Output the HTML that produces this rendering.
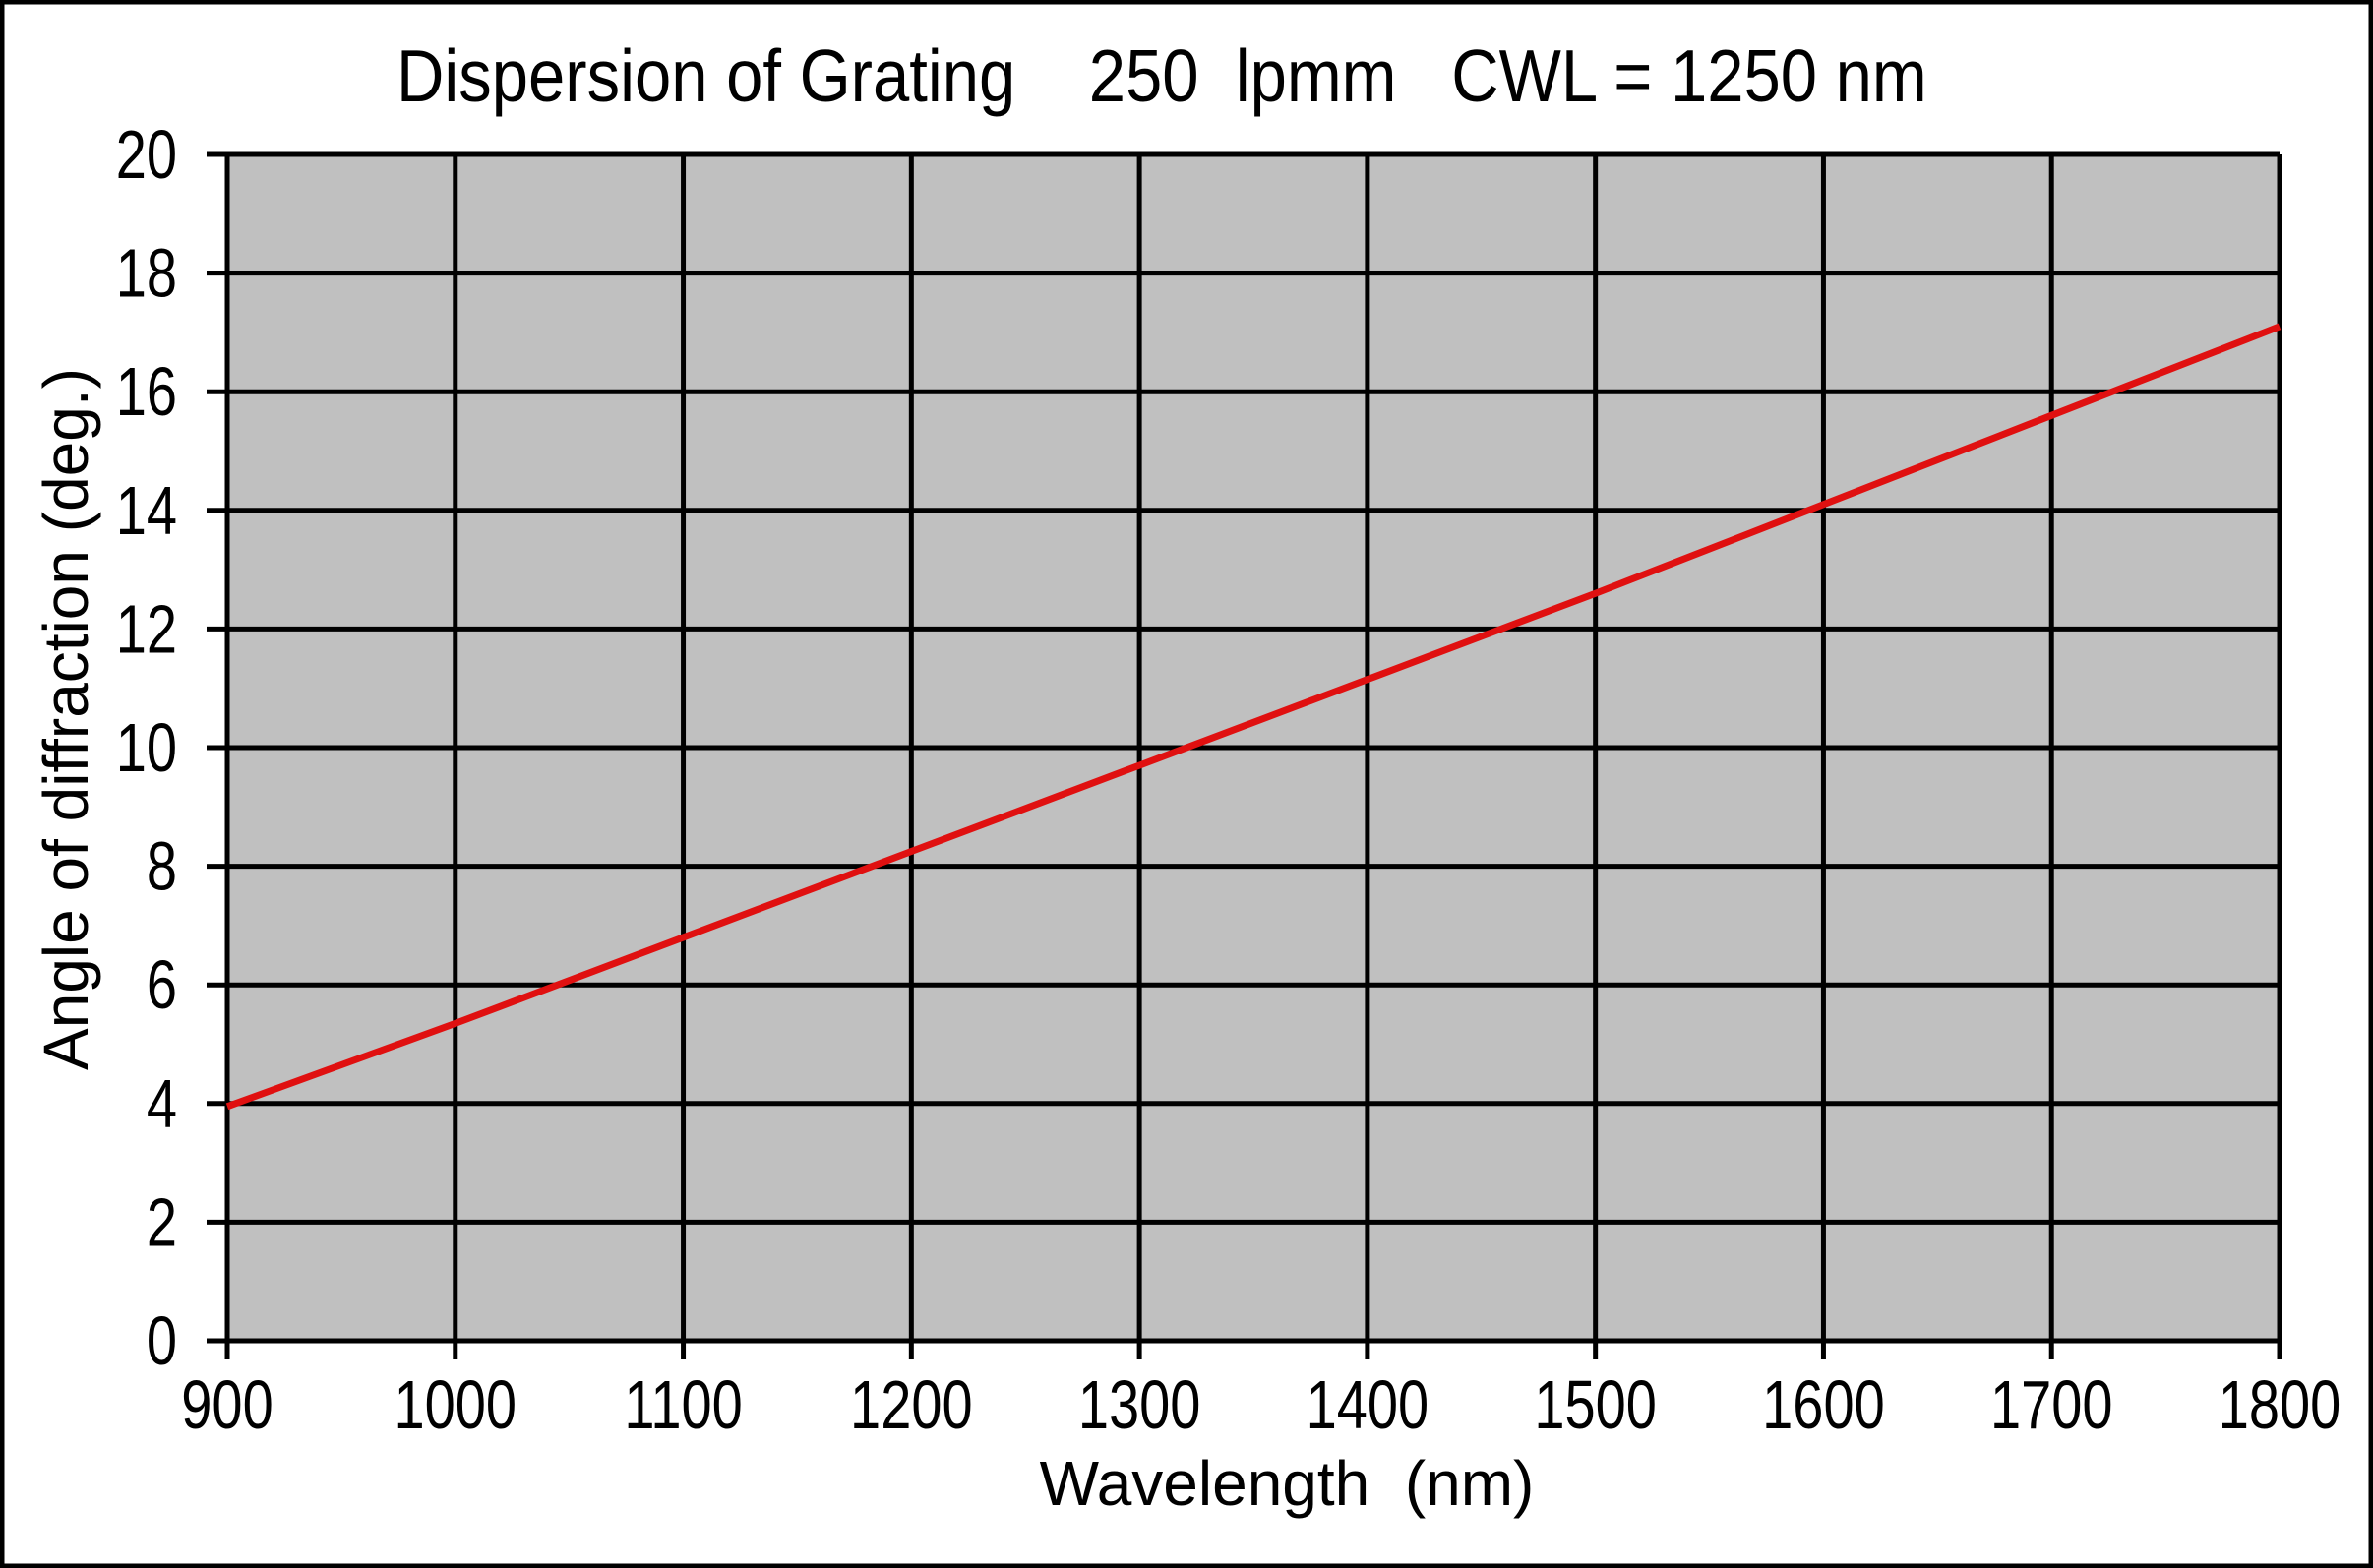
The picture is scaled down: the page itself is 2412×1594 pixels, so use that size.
<!DOCTYPE html>
<html><head><meta charset="utf-8"><style>
html,body{margin:0;padding:0;background:#fff}
svg{display:block}
text{font-family:"Liberation Sans",Arial,sans-serif;fill:#000}
</style></head><body>
<svg id="chart" width="2412" height="1594" viewBox="0 0 2412 1594" xmlns="http://www.w3.org/2000/svg">
<rect x="2" y="2" width="2408" height="1590" fill="#fff" stroke="#000" stroke-width="5"/>
<text transform="translate(403,103) scale(1,1.12)" font-size="67" xml:space="preserve">Dispersion of Grating    250  lpmm   CWL = 1250 nm</text>
<g id="plot"></g>
<text x="1308" y="1530" font-size="64" text-anchor="middle" xml:space="preserve">Wavelength  (nm)</text>
<text transform="translate(89,731) rotate(-90)" font-size="64" text-anchor="middle">Angle of diffraction (deg.)</text>
</svg>
<script>
const xTicks = [900,1000,1100,1200,1300,1400,1500,1600,1700,1800];
const yTicks = [0,2,4,6,8,10,12,14,16,18,20];
const wavelengths = [900,1000,1100,1200,1300,1400,1500,1600,1700,1800];
const angles = [3.95,5.35,6.8,8.25,9.7,11.15,12.6,14.1,15.6,17.1];

const L=231,R=2317,T=157,B=1363;
const xs=v=>L+(v-900)/(1800-900)*(R-L);
const ys=v=>B-(v-0)/(20-0)*(B-T);
const NS='http://www.w3.org/2000/svg';
const g=document.getElementById('plot');
function mk(tag,attrs){const e=document.createElementNS(NS,tag);for(const k in attrs)e.setAttribute(k,attrs[k]);g.appendChild(e);return e;}

let bg=mk('rect',{x:L,y:T,width:R-L,height:B-T,fill:'#c0c0c0'});



xTicks.forEach(v=>{
  const x=xs(v);
  let l=mk('line',{x1:x,y1:T,x2:x,y2:B+19,stroke:'#000','stroke-width':5});
  
  
  let t=mk('text',{transform:'translate('+x+',1452) scale(1,1.25)','font-size':56,'text-anchor':'middle'});
  t.textContent=v;
  
  
});
yTicks.forEach(v=>{
  const y=ys(v);
  let l=mk('line',{x1:L-21,y1:y,x2:R,y2:y,stroke:'#000','stroke-width':5});
  
  
  let t=mk('text',{transform:'translate(180,'+(y+24)+') scale(1,1.25)','font-size':56,'text-anchor':'end'});
  t.textContent=v;
  
  
});
let pts=wavelengths.map((w,i)=>xs(w)+','+ys(angles[i])).join(' ');
let pl=mk('polyline',{points:pts,fill:'none',stroke:'#e01010','stroke-width':7,'stroke-linejoin':'round'});


</script>
</body></html>
